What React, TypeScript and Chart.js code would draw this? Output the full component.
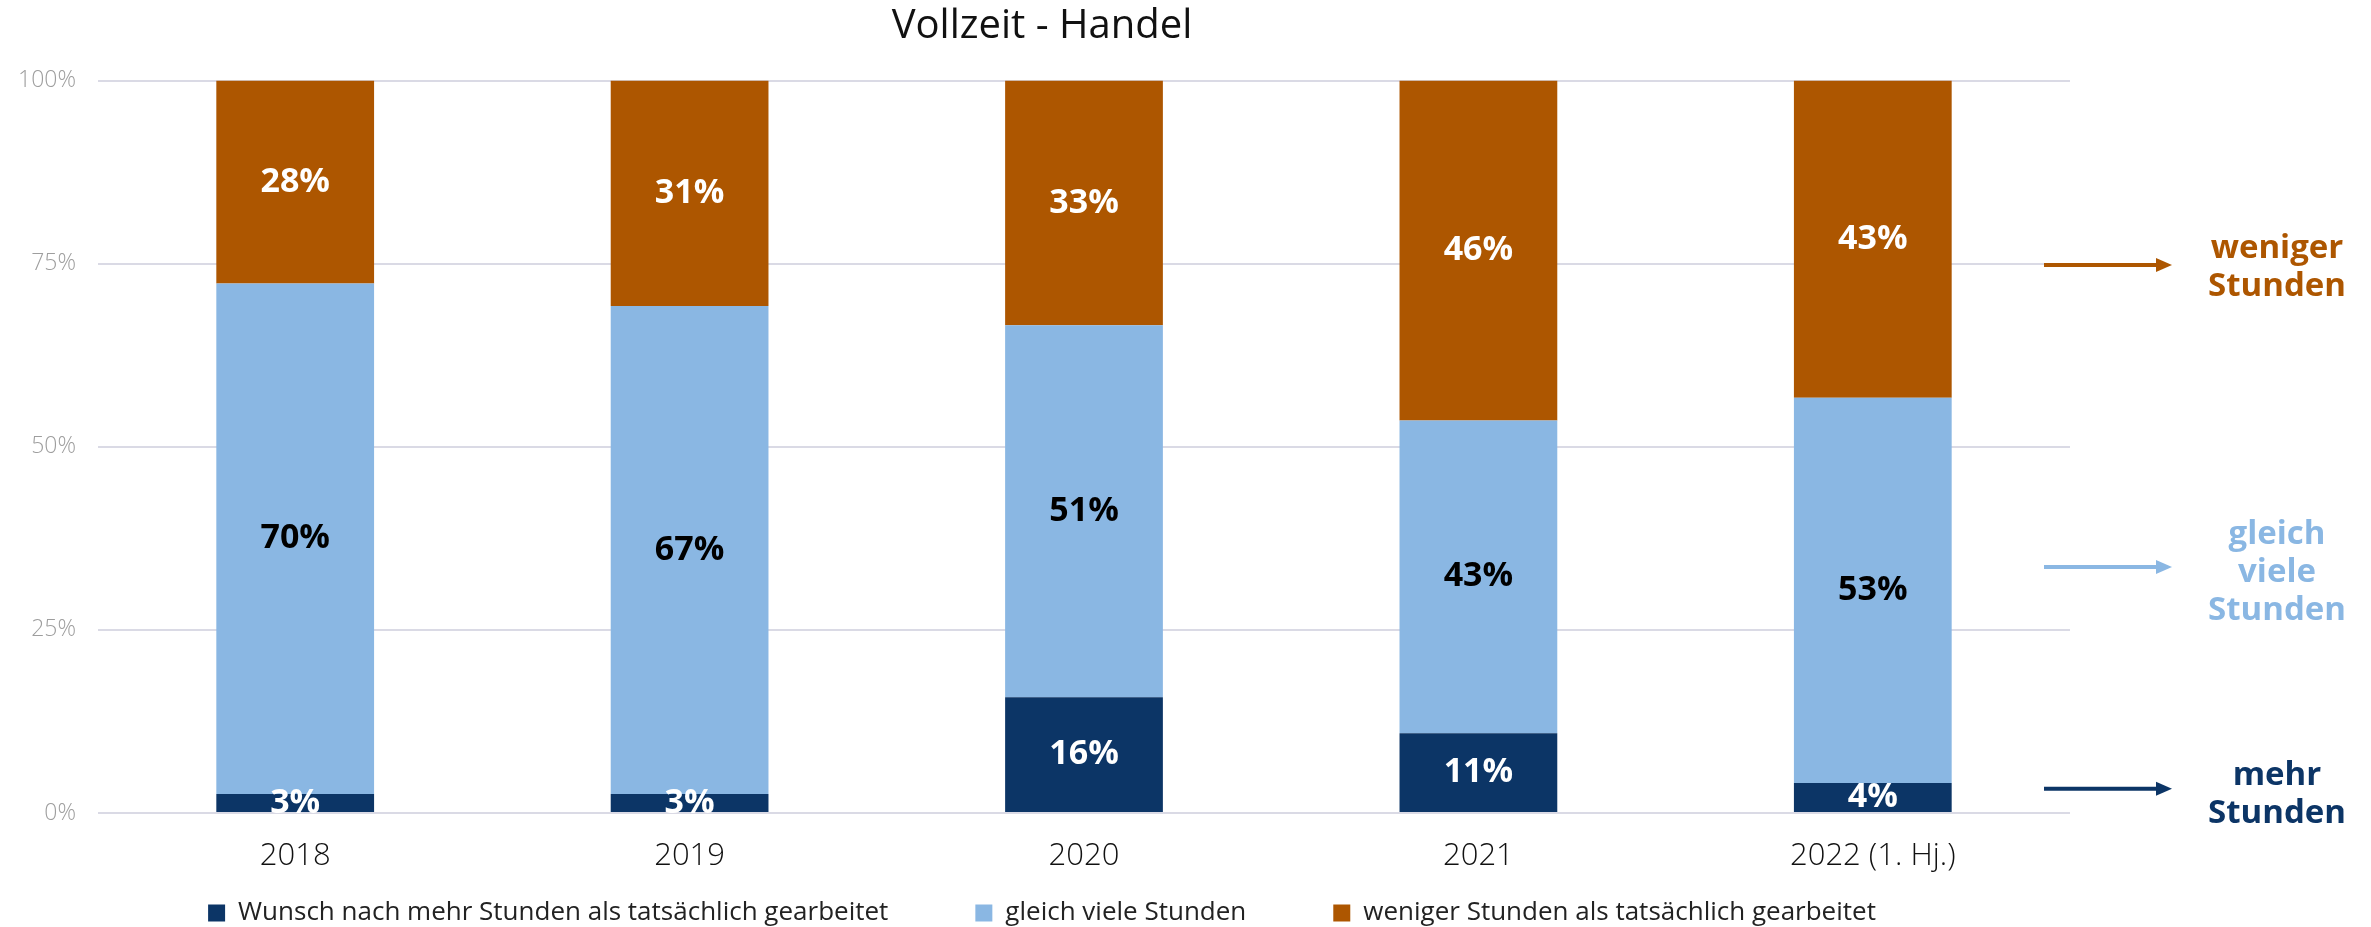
import React, { useEffect, useRef } from "react";
import { Chart, registerables } from "chart.js";

Chart.register(...registerables);

const TITLE = "Vollzeit - Handel";
const categories = ["2018", "2019", "2020", "2021", "2022 (1. Hj.)"];
const seriesNames = [
  "Wunsch nach mehr Stunden als tatsächlich gearbeitet",
  "gleich viele Stunden",
  "weniger Stunden als tatsächlich gearbeitet",
];
const mehrValues = [2.6, 2.6, 15.8, 10.9, 4.1];
const gleichValues = [69.7, 66.6, 50.8, 42.7, 52.6];
const wenigerValues = [27.7, 30.8, 33.4, 46.4, 43.3];
const seriesColors = ["#0C3566", "#8AB7E3", "#AD5600"];
const labelColors = ["#FFFFFF", "#000000", "#FFFFFF"];
const yTicks = [0, 25, 50, 75, 100];

// side annotations: text lines, anchor value on the y axis, arrow value
const sideLabels = [
  { lines: ["weniger", "Stunden"], textAt: 74.4, arrowAt: 74.8, color: "#AD5600" },
  { lines: ["gleich", "viele", "Stunden"], textAt: 32.8, arrowAt: 33.6, color: "#8AB7E3" },
  { lines: ["mehr", "Stunden"], textAt: 2.5, arrowAt: 3.3, color: "#0C3566" },
];

const FONT = "'Open Sans', 'Noto Sans', sans-serif";

const valueLabelPlugin = {
  id: "valueLabels",
  afterDatasetsDraw(chart: any) {
    const ctx = chart.ctx;
    ctx.save();
    ctx.font = `700 34px ${FONT}`;
    ctx.textAlign = "center";
    ctx.textBaseline = "middle";
    chart.data.datasets.forEach((ds: any, di: number) => {
      const meta = chart.getDatasetMeta(di);
      meta.data.forEach((el: any, i: number) => {
        const v = ds.data[i];
        const cy = (el.y + el.base) / 2;
        ctx.fillStyle = labelColors[di];
        ctx.fillText(Math.round(v) + "%", el.x, cy);
      });
    });
    ctx.restore();
  },
};

const sidePlugin = {
  id: "sideLabels",
  afterDraw(chart: any) {
    const ctx = chart.ctx;
    const ys = chart.scales.y;
    const area = chart.chartArea;
    const x0 = area.right - 26;
    const x1 = area.right + 102;
    const textX = area.right + 207;
    const lh = 38;
    ctx.save();
    sideLabels.forEach((s) => {
      const ay = ys.getPixelForValue(s.arrowAt);
      ctx.strokeStyle = s.color;
      ctx.fillStyle = s.color;
      ctx.lineWidth = 4;
      ctx.beginPath();
      ctx.moveTo(x0, ay);
      ctx.lineTo(x1 - 12, ay);
      ctx.stroke();
      ctx.beginPath();
      ctx.moveTo(x1, ay);
      ctx.lineTo(x1 - 16, ay - 7);
      ctx.lineTo(x1 - 16, ay + 7);
      ctx.closePath();
      ctx.fill();
      const ty = ys.getPixelForValue(s.textAt);
      ctx.font = `700 33px ${FONT}`;
      ctx.textAlign = "center";
      ctx.textBaseline = "middle";
      const n = s.lines.length;
      s.lines.forEach((t, i) => {
        ctx.fillText(t, textX, ty + (i - (n - 1) / 2) * lh);
      });
    });
    ctx.restore();
  },
};

export default function App() {
  const ref = useRef<HTMLCanvasElement | null>(null);
  useEffect(() => {
    document.body.style.margin = "0";
    const canvas = ref.current;
    if (!canvas) return;
    const datasets = [mehrValues, gleichValues, wenigerValues].map((d, i) => ({
      label: seriesNames[i],
      data: d,
      backgroundColor: seriesColors[i],
      borderWidth: 0,
      barPercentage: 0.4,
      categoryPercentage: 1,
    }));
    const chart = new Chart(canvas, {
      type: "bar",
      data: { labels: categories, datasets },
      options: {
        responsive: false,
        animation: false,
        devicePixelRatio: 1,
        layout: { padding: { left: 14, right: 301, top: 0, bottom: -9 } },
        plugins: {
          title: {
            display: true,
            text: TITLE,
            color: "#111111",
            font: { family: FONT, size: 40, weight: "400" as any, lineHeight: 1.2 },
            padding: { top: 2.5, bottom: 30 },
          },
          legend: {
            position: "bottom",
            labels: {
              boxWidth: 17,
              boxHeight: 17,
              padding: 87,
              color: "#222222",
              font: { family: FONT, size: 26, weight: "400" as any },
            },
          },
          tooltip: { enabled: false },
        },
        scales: {
          x: {
            stacked: true,
            grid: { display: false },
            border: { display: false },
            afterFit: (s: any) => {
              s.height = 0;
            },
            ticks: {
              mirror: true,
              color: "#111111",
              padding: -62,
              font: { family: FONT, size: 31, weight: "300" as any },
            },
          },
          y: {
            stacked: true,
            min: 0,
            max: 100,
            afterFit: (s: any) => {
              s.width = 84;
            },
            afterBuildTicks: (s: any) => {
              s.ticks = yTicks.map((v) => ({ value: v }));
            },
            grid: { color: "#DADAE5", lineWidth: 2, drawTicks: false },
            border: { display: false },
            ticks: {
              color: "#9E9E9E",
              padding: 22,
              font: { family: FONT, size: 23, weight: "300" as any },
              callback: (v: any) => v + "%",
            },
          },
        },
      },
      plugins: [valueLabelPlugin, sidePlugin],
    });
    return () => chart.destroy();
  }, []);
  return (
    <div style={{ position: "absolute", left: 0, top: 0, width: 2371, height: 927 }}>
      <canvas ref={ref} width={2371} height={927} />
    </div>
  );
}
